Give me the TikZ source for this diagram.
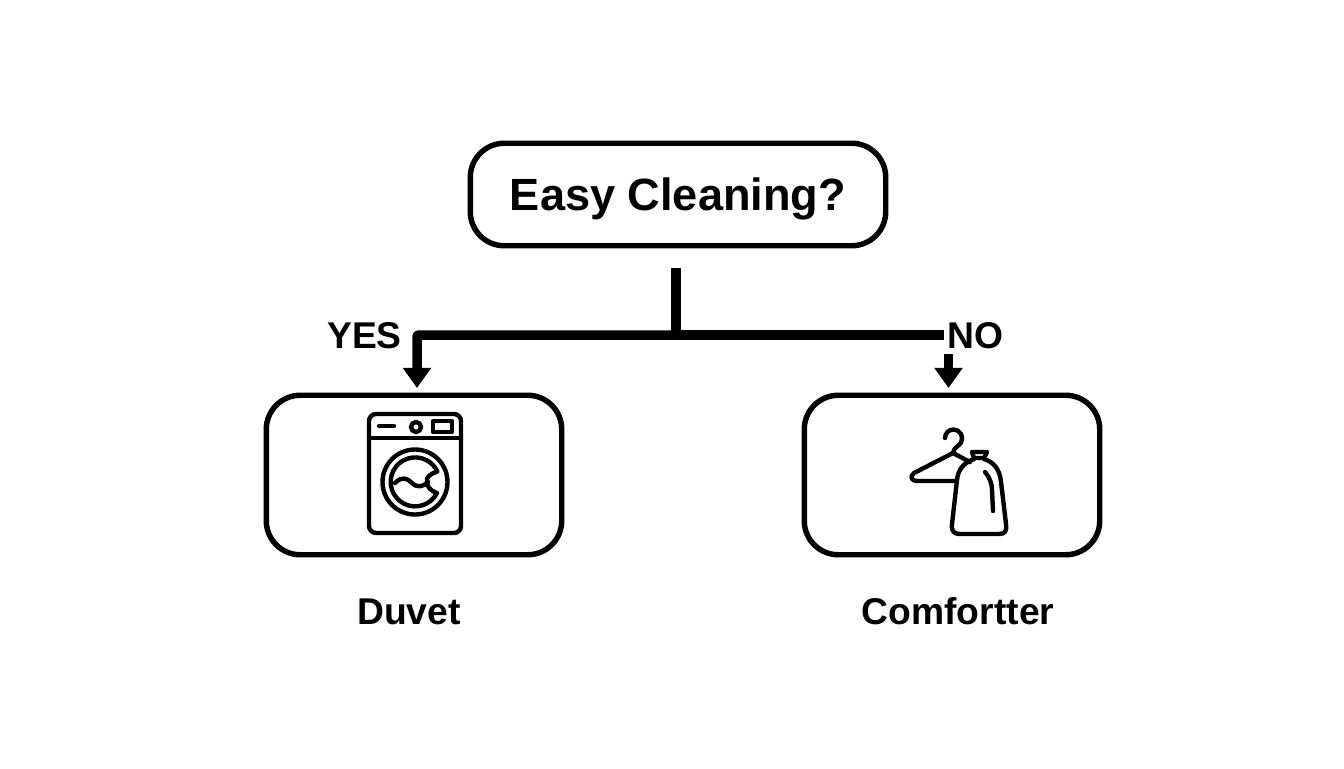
\documentclass[tikz,border=0pt]{standalone}
\usepackage{fontspec}
\setmainfont{Liberation Sans}
\usetikzlibrary{arrows.meta}
\tikzset{
	boxnode/.style={draw, line width=3.1pt, rounded corners=0.68cm, inner sep=0pt},
	flowline/.style={line width=5.4pt},
	flowarrow/.style={flowline, -{Triangle[width=15.5pt,length=11.5pt]}},
	iconline/.style={line width=2.5pt, line cap=round, line join=round},
	caseword/.style={font=\bfseries\fontsize{21.2}{25}\selectfont, inner sep=0pt},
}

\begin{document}
\begin{tikzpicture}[x=0.02cm,y=-0.02cm]
	\useasboundingbox (0,0) rectangle (1344,768);
	\node[boxnode, minimum width=8.31cm, minimum height=2.05cm, text depth=0pt, font=\bfseries\fontsize{25.7}{30}\selectfont] (question) at (678,194.5) {Easy Cleaning?};
	\node[boxnode, minimum width=5.91cm, minimum height=3.19cm] (duvetbox) at (414,475) {};
	\node[boxnode, minimum width=5.91cm, minimum height=3.19cm] (comfbox) at (952,475) {};
	\node[caseword] (duvet) at (409,612) {Duvet};
	\node[caseword] (comf) at (958,611) {Comfortter};
	\coordinate (stem) at (676,268);
	\coordinate (split) at (676,335);
	\coordinate (yesbar) at (417,335);
	\coordinate (nobar) at (948.5,335);
	\coordinate (yestip) at (417,388);
	\coordinate (notip) at (948.5,388);
	\draw [flowline] (stem) -- (split);
	\draw [flowarrow, rounded corners=0.04cm] (split) -- (yesbar) -- (yestip);
	\draw [flowarrow] (split) -- (nobar) -- (notip);
	\node[caseword, fill=white, inner xsep=2.2pt, inner ysep=2.8pt] (no) at (975.5,336) {NO};
	\node[caseword] (yes) at (364.5,336) {YES};
	% washing machine
	\draw [iconline, rounded corners=0.14cm] (369,414) rectangle (461,533);
	\draw [iconline] (369,438) -- (461,438);
	\draw [iconline] (379,426) -- (394,426);
	\draw [iconline] (416,427) circle [radius=5];
	\draw [iconline] (433,421) rectangle (452,432);
	\draw [iconline] (415,482) circle [radius=32.5];
	\draw [iconline] (437,493) arc [start angle=27, end angle=335, radius=24.5]
		.. controls (430,474) and (426,477) .. (427,482)
		.. controls (427,487) and (431,491) .. (437,493);
	\draw [iconline] (395,483) .. controls (402,476) and (407,478) .. (412,483)
		.. controls (417,488) and (423,487) .. (428,482);
	% hanger and bag
	\draw [iconline] (945,438) arc [start angle=180, end angle=375, radius=8.5]
		.. controls (962,445) and (953,447) .. (953,453);
	\draw [iconline] (970,462) -- (953,453) -- (914,473)
		.. controls (909,477) and (912,481) .. (917,481) -- (956,481);
	\draw [iconline] (974,458) -- (972,452) -- (987,452) -- (984,458) -- cycle;
	\draw [iconline] (974,459) .. controls (963,463) and (958,470) .. (957,480)
		-- (952,524) .. controls (951,531) and (954,534) .. (960,534)
		-- (999,534) .. controls (1005,534) and (1007,531) .. (1006,524)
		-- (1001,482) .. controls (1000,470) and (994,462) .. (984,459);
	\draw [iconline] (985,472) .. controls (990,478) and (992,484) .. (992,490) -- (993,511);
\end{tikzpicture}
\end{document}
